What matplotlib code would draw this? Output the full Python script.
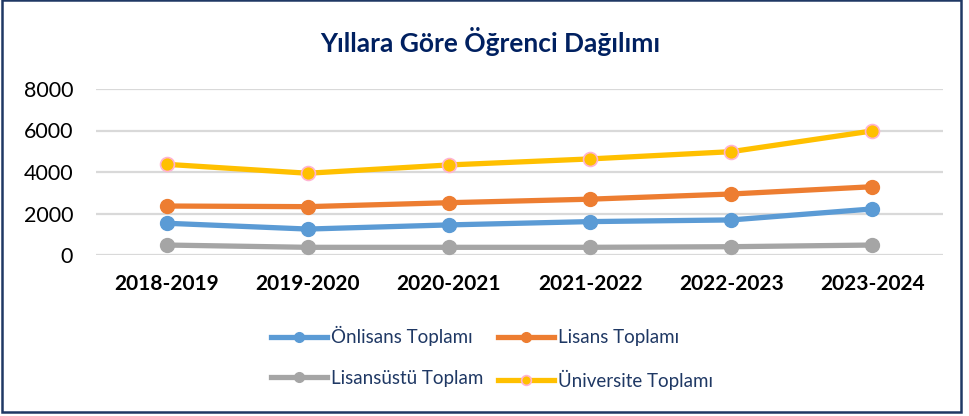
import matplotlib.pyplot as plt
from matplotlib.patches import Rectangle

years = ["2018-2019", "2019-2020", "2020-2021", "2021-2022", "2022-2023", "2023-2024"]
onlisans = [1530, 1250, 1450, 1610, 1690, 2220]
lisans = [2360, 2330, 2520, 2690, 2940, 3290]
lisansustu = [480, 370, 370, 370, 400, 480]
universite = [4370, 3940, 4340, 4630, 4980, 5980]

plt.rcParams['font.family'] = ['Lato', 'DejaVu Sans']

fig = plt.figure(figsize=(9.69, 4.16), dpi=100)
ax = fig.add_axes([96/969, 1-255/416, (943-96)/969, (255-89)/416])

x = list(range(len(years)))
lw = 3.8
ms = 10
l1, = ax.plot(x, onlisans, color="#5B9BD5", linewidth=lw, marker="o", markersize=ms, label="Önlisans Toplamı", zorder=3)
l2, = ax.plot(x, lisans, color="#ED7D31", linewidth=lw, marker="o", markersize=ms, label="Lisans Toplamı", zorder=3)
l3, = ax.plot(x, lisansustu, color="#A5A5A5", linewidth=lw, marker="o", markersize=ms, label="Lisansüstü Toplam", zorder=3)
l4, = ax.plot(x, universite, color="#FFC000", linewidth=lw, marker="o", markersize=ms,
              markeredgecolor="#FFB3D1", markeredgewidth=1.2, label="Üniversite Toplamı", zorder=3)

ax.set_xlim(-0.5, 5.5)
ax.set_ylim(0, 8000)
ax.set_yticks([0, 2000, 4000, 6000, 8000])
ax.set_xticks(x)
ax.set_xticklabels(years, fontsize=15, fontweight="bold")
ax.tick_params(axis="y", labelsize=15.5, length=0, pad=16.5)
ax.tick_params(axis="x", length=0, pad=14)
ax.grid(axis="y", color="#D9D9D9", linewidth=1.6, zorder=0)
for s in ax.spines.values():
    s.set_visible(False)

fig.text(490/969, 1-42/416, "Yıllara Göre Öğrenci Dağılımı", ha="center", va="center",
         fontsize=19, fontweight="bold", color="#002060")

# order so rows read: Önlisans, Lisans / Lisansüstü, Üniversite
handles = [l1, l3, l2, l4]
leg = fig.legend(handles, [h.get_label() for h in handles], loc="center",
                 bbox_to_anchor=(492/969, 1-358/416), ncol=2, frameon=False,
                 fontsize=13.5, handlelength=3.0, handletextpad=0.2, columnspacing=0.8,
                 labelspacing=1.25, markerscale=0.7)
for t in leg.get_texts():
    t.set_color("#1F3864")

fig.patches.append(Rectangle((2/969, 4/416), 959/969, 412/416, transform=fig.transFigure,
                             fill=False, edgecolor="#1F3864", linewidth=1.8))

fig.savefig("out.png", dpi=100)
